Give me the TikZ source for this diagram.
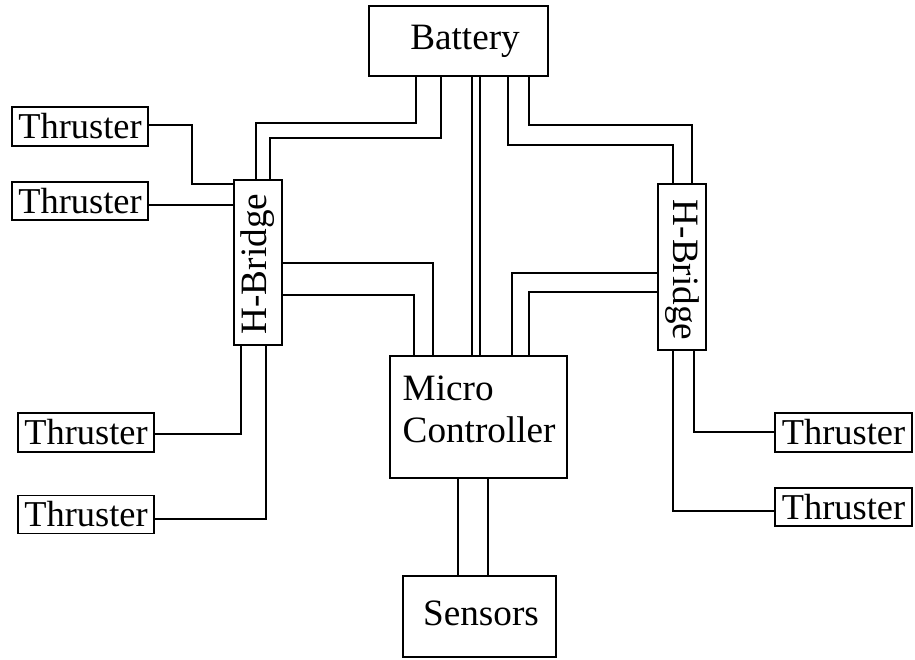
\documentclass[tikz,border=0pt]{standalone}
\usepackage{fontspec}
\setmainfont{Liberation Serif}
\usetikzlibrary{positioning, calc}

\begin{document}
\begin{tikzpicture}[x=0.5pt, y=-0.5pt, line width=0.7pt,
  blk/.style={draw, inner sep=0pt, font=\fontsize{18.2}{21}\selectfont},
  txt/.style={font=\fontsize{18.6}{21}\selectfont},
  wire/.style={line width=0.7pt}]

\useasboundingbox (0,0) rectangle (915,659);

% --- Central column ---
\node[blk, minimum width=89.5pt, minimum height=35pt] (bat) at (458.5,41) {};
\node[txt] (battxt) at (465,41) {Battery};
\node[blk, minimum width=88.5pt, minimum height=61pt] (mc) at (478.5,417) {};
\node[txt, align=left, inner sep=0pt, anchor=west] (mctxt) at (402,409.5) {Micro\\Controller};
\node[blk, minimum width=76.5pt, minimum height=40.5pt] (sen) at (479.5,616.5) {};
\node[txt, anchor=base] (sentxt) at (481,625) {Sensors};

% battery to micro controller
\draw[wire] (bat.south -| 472,0) -- (mc.north -| 472,0);
\draw[wire] (bat.south -| 480,0) -- (mc.north -| 480,0);
% micro controller to sensors
\draw[wire] (mc.south -| 458,0) -- (sen.north -| 458,0);
\draw[wire] (mc.south -| 488,0) -- (sen.north -| 488,0);

% --- Left side ---
\node[blk, minimum width=24pt, minimum height=82.5pt] (hbl) at (258,262.5) {};
\node[txt, rotate=90] (hbltxt) at (258,264) {H-Bridge};
\node[blk, minimum width=68pt, minimum height=19.5pt] (thl1) at (80,126.5) {Thruster};
\node[blk, minimum width=68pt, minimum height=19pt] (thl2) at (80,201) {Thruster};
\node[blk, minimum width=68pt, minimum height=19.5pt] (thl3) at (86,432.5) {Thruster};
\node[blk, minimum width=68pt, minimum height=19pt] (thl4) at (86,514.5) {Thruster};

\draw[wire] (thl1.east |- 0,125) -| (192,184) -- (hbl.west |- 0,184);
\draw[wire] (thl2.east |- 0,205) -- (hbl.west |- 0,205);
\draw[wire] (bat.south -| 416,0) |- (256,123) -- (hbl.north -| 256,0);
\draw[wire] (bat.south -| 441,0) |- (270,138) -- (hbl.north -| 270,0);
\draw[wire] (hbl.east |- 0,263) -| (mc.north -| 433,0);
\draw[wire] (hbl.east |- 0,295) -| (mc.north -| 414,0);
\draw[wire] (hbl.south -| 241,0) |- (thl3.east |- 0,434);
\draw[wire] (hbl.south -| 266,0) |- (thl4.east |- 0,519);

% --- Right side ---
\node[blk, minimum width=24pt, minimum height=83pt] (hbr) at (682,267) {};
\node[txt, rotate=-90] (hbrtxt) at (682,270) {H-Bridge};
\node[blk, minimum width=68.5pt, minimum height=19.5pt] (thr1) at (843.5,432.5) {Thruster};
\node[blk, minimum width=68.5pt, minimum height=19pt] (thr2) at (843.5,507) {Thruster};

\draw[wire] (bat.south -| 508,0) |- (673,145) -- (hbr.north -| 673,0);
\draw[wire] (bat.south -| 529,0) |- (692,125) -- (hbr.north -| 692,0);
\draw[wire] (hbr.west |- 0,273) -| (mc.north -| 512,0);
\draw[wire] (hbr.west |- 0,292) -| (mc.north -| 529,0);
\draw[wire] (hbr.south -| 694,0) |- (thr1.west |- 0,432);
\draw[wire] (hbr.south -| 673,0) |- (thr2.west |- 0,511);

\end{tikzpicture}
\end{document}
